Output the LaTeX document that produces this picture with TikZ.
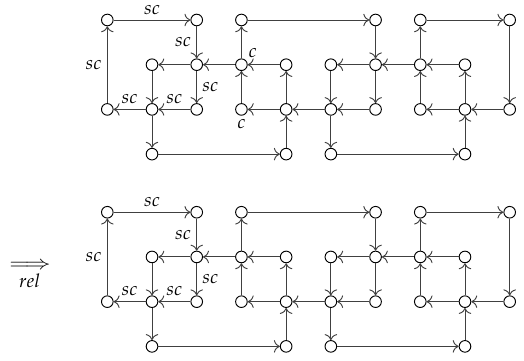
\documentclass[tikz,border=0pt]{standalone}
\usepackage{mathpazo}
\usetikzlibrary{positioning,arrows.meta}
\tikzset{
  vtx/.style={draw=black, circle, minimum size=7.4pt, inner sep=0pt, line width=0.6pt},
  seta/.style={-{To[scale=1.3]}, draw=black!75, line width=0.6pt},
  lbl/.style={draw=none, fill=none, font=\large},
}
\newcommand{\grafo}[1]{%
  \node[vtx] (#1-00) at (0,0) {};
  \node[vtx] (#1-20) at (2,0) {};
  \node[vtx] (#1-30) at (3,0) {};
  \node[vtx] (#1-60) at (6,0) {};
  \node[vtx] (#1-70) at (7,0) {};
  \node[vtx] (#1-90) at (9,0) {};
  \node[vtx] (#1-11) at (1,-1) {};
  \node[vtx] (#1-21) at (2,-1) {};
  \node[vtx] (#1-31) at (3,-1) {};
  \node[vtx] (#1-41) at (4,-1) {};
  \node[vtx] (#1-51) at (5,-1) {};
  \node[vtx] (#1-61) at (6,-1) {};
  \node[vtx] (#1-71) at (7,-1) {};
  \node[vtx] (#1-81) at (8,-1) {};
  \node[vtx] (#1-02) at (0,-2) {};
  \node[vtx] (#1-12) at (1,-2) {};
  \node[vtx] (#1-22) at (2,-2) {};
  \node[vtx] (#1-32) at (3,-2) {};
  \node[vtx] (#1-42) at (4,-2) {};
  \node[vtx] (#1-52) at (5,-2) {};
  \node[vtx] (#1-62) at (6,-2) {};
  \node[vtx] (#1-72) at (7,-2) {};
  \node[vtx] (#1-82) at (8,-2) {};
  \node[vtx] (#1-92) at (9,-2) {};
  \node[vtx] (#1-13) at (1,-3) {};
  \node[vtx] (#1-43) at (4,-3) {};
  \node[vtx] (#1-53) at (5,-3) {};
  \node[vtx] (#1-83) at (8,-3) {};
  \draw[seta] (#1-00) -- node[lbl,above] {$sc$} (#1-20);
  \draw[seta] (#1-20) -- node[lbl,left] {$sc$} (#1-21);
  \draw[seta] (#1-02) -- node[lbl,left] {$sc$} (#1-00);
  \draw[seta] (#1-21) -- (#1-11);
  \draw[seta] (#1-11) -- (#1-12);
  \draw[seta] (#1-21) -- node[lbl,right] {$sc$} (#1-22);
  \draw[seta] (#1-12) -- node[lbl,above] {$sc$} (#1-02);
  \draw[seta] (#1-22) -- node[lbl,above] {$sc$} (#1-12);
  \draw[seta] (#1-12) -- (#1-13);
  \draw[seta] (#1-13) -- (#1-43);
  \draw[seta] (#1-31) -- (#1-21);
  \draw[seta] (#1-31) -- (#1-30);
  \draw[seta] (#1-32) -- (#1-31);
  \draw[seta] (#1-30) -- (#1-60);
  \draw[seta] (#1-41) -- (#1-31);
  \draw[seta] (#1-42) -- (#1-41);
  \draw[seta] (#1-42) -- (#1-32);
  \draw[seta] (#1-43) -- (#1-42);
  \draw[seta] (#1-52) -- (#1-42);
  \draw[seta] (#1-60) -- (#1-61);
  \draw[seta] (#1-61) -- (#1-51);
  \draw[seta] (#1-51) -- (#1-52);
  \draw[seta] (#1-61) -- (#1-62);
  \draw[seta] (#1-62) -- (#1-52);
  \draw[seta] (#1-52) -- (#1-53);
  \draw[seta] (#1-53) -- (#1-83);
  \draw[seta] (#1-71) -- (#1-61);
  \draw[seta] (#1-71) -- (#1-70);
  \draw[seta] (#1-70) -- (#1-90);
  \draw[seta] (#1-90) -- (#1-92);
  \draw[seta] (#1-92) -- (#1-82);
  \draw[seta] (#1-82) -- (#1-81);
  \draw[seta] (#1-81) -- (#1-71);
  \draw[seta] (#1-72) -- (#1-71);
  \draw[seta] (#1-82) -- (#1-72);
  \draw[seta] (#1-83) -- (#1-82);
}

\begin{document}
\begin{tikzpicture}
\useasboundingbox (-2.40,0.447) rectangle (9.32,-7.61);
\grafo{a}
\node[lbl, inner sep=1.5pt, above right=0pt of a-31] {$c$};
\node[lbl, inner sep=2pt, below=0pt of a-32] {$c$};
\begin{scope}[yshift=-4.3cm]
\grafo{b}
\end{scope}
\node[lbl, inner sep=0pt] (imp) at (-1.73,-5.50) {\scalebox{1.3}[1]{$\Longrightarrow$}};
\node[lbl, inner sep=0pt, below=2.5pt of imp] {$rel$};
\end{tikzpicture}
\end{document}
